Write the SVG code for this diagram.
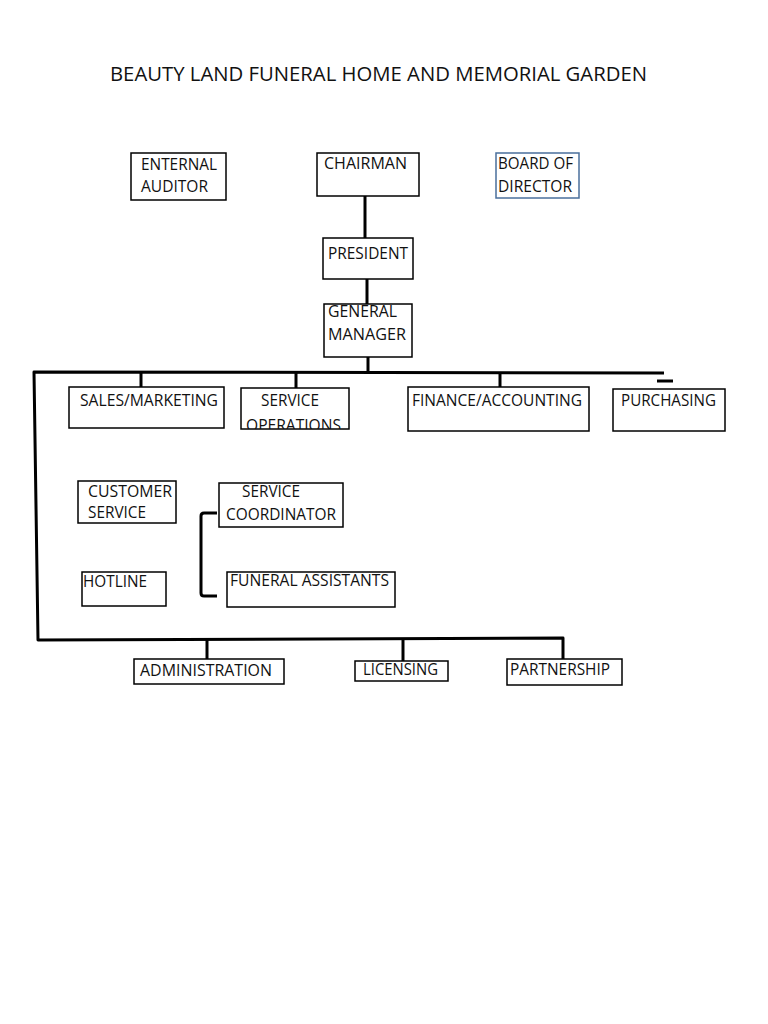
<svg xmlns="http://www.w3.org/2000/svg" width="768" height="1024" viewBox="0 0 768 1024">
<defs>
<style>
.box{fill:#fff;stroke:#000;stroke-width:1.5}
.blue{fill:#fff;stroke:#4a6f9c;stroke-width:1.5}
.t{font-family:"Open Sans","Liberation Sans",sans-serif;font-size:15.5px;fill:#111}
.title{font-family:"Open Sans","Liberation Sans",sans-serif;font-size:20px;fill:#111}
.c{fill:none;stroke:#000;stroke-width:3;stroke-linejoin:round}
</style>
<clipPath id="opsclip"><rect x="241" y="388" width="108" height="41"/></clipPath>
<clipPath id="gmclip"><rect x="324" y="305" width="88" height="52"/></clipPath>
</defs>
<rect width="768" height="1024" fill="#fff"/>
<text class="title" x="110" y="81" textLength="537" lengthAdjust="spacingAndGlyphs">BEAUTY LAND FUNERAL HOME AND MEMORIAL GARDEN</text>

<g id="connectors">
<line class="c" x1="365" y1="196" x2="365" y2="238"/>
<line class="c" x1="367" y1="279" x2="367" y2="305"/>
<line class="c" x1="368" y1="357" x2="368" y2="373"/>
<polyline class="c" points="664,373 34,372 38,640 563,638 563,659"/>
<line class="c" x1="141" y1="373" x2="141" y2="387"/>
<line class="c" x1="296" y1="373" x2="296" y2="388"/>
<line class="c" x1="500" y1="373" x2="500" y2="387"/>
<line class="c" x1="657" y1="381" x2="673" y2="381"/>
<line class="c" x1="207" y1="640" x2="207" y2="659"/>
<line class="c" x1="403" y1="639" x2="403" y2="661"/>
<path class="c" d="M217,513 L204,513 Q201,513 201,516 L201,593 Q201,596 204,596 L217,596"/>
</g>

<g id="enternal-auditor">
<rect class="box" x="131" y="153" width="95" height="47"/>
<text class="t" x="141" y="170" textLength="76" lengthAdjust="spacingAndGlyphs">ENTERNAL</text>
<text class="t" x="141" y="192" textLength="67" lengthAdjust="spacingAndGlyphs">AUDITOR</text>
</g>
<g id="chairman">
<rect class="box" x="317" y="153" width="102" height="43"/>
<text class="t" x="324" y="169" textLength="83" lengthAdjust="spacingAndGlyphs">CHAIRMAN</text>
</g>
<g id="board-of-director">
<rect class="blue" x="496" y="153" width="83" height="45"/>
<text class="t" x="498" y="169" textLength="75" lengthAdjust="spacingAndGlyphs">BOARD OF</text>
<text class="t" x="498" y="192" textLength="74" lengthAdjust="spacingAndGlyphs">DIRECTOR</text>
</g>
<g id="president">
<rect class="box" x="323" y="238" width="90" height="41"/>
<text class="t" x="328" y="259" textLength="80" lengthAdjust="spacingAndGlyphs">PRESIDENT</text>
</g>
<g id="general-manager">
<rect class="box" x="324" y="304" width="88" height="53"/>
<g clip-path="url(#gmclip)">
<text class="t" x="328" y="317" textLength="69" lengthAdjust="spacingAndGlyphs">GENERAL</text>
</g>
<text class="t" x="328" y="340" textLength="78" lengthAdjust="spacingAndGlyphs">MANAGER</text>
</g>
<g id="sales-marketing">
<rect class="box" x="69" y="387" width="155" height="41"/>
<text class="t" x="80" y="406" textLength="138" lengthAdjust="spacingAndGlyphs">SALES/MARKETING</text>
</g>
<g id="service-operations">
<rect class="box" x="241" y="388" width="108" height="41"/>
<text class="t" x="261" y="406" textLength="58" lengthAdjust="spacingAndGlyphs">SERVICE</text>
<g clip-path="url(#opsclip)">
<text class="t" x="246" y="431" textLength="95" lengthAdjust="spacingAndGlyphs">OPERATIONS</text>
</g>
</g>
<g id="finance-accounting">
<rect class="box" x="408" y="387" width="181" height="44"/>
<text class="t" x="412" y="406" textLength="170" lengthAdjust="spacingAndGlyphs">FINANCE/ACCOUNTING</text>
</g>
<g id="purchasing">
<rect class="box" x="613" y="389" width="112" height="42"/>
<text class="t" x="621" y="406" textLength="95" lengthAdjust="spacingAndGlyphs">PURCHASING</text>
</g>
<g id="customer-service">
<rect class="box" x="78" y="481" width="98" height="42"/>
<text class="t" x="88" y="497" textLength="84" lengthAdjust="spacingAndGlyphs">CUSTOMER</text>
<text class="t" x="88" y="518" textLength="58" lengthAdjust="spacingAndGlyphs">SERVICE</text>
</g>
<g id="service-coordinator">
<rect class="box" x="219" y="483" width="124" height="44"/>
<text class="t" x="242" y="497" textLength="58" lengthAdjust="spacingAndGlyphs">SERVICE</text>
<text class="t" x="226" y="520" textLength="110" lengthAdjust="spacingAndGlyphs">COORDINATOR</text>
</g>
<g id="hotline">
<rect class="box" x="82" y="572" width="84" height="34"/>
<text class="t" x="83" y="587" textLength="64" lengthAdjust="spacingAndGlyphs">HOTLINE</text>
</g>
<g id="funeral-assistants">
<rect class="box" x="227" y="572" width="168" height="35"/>
<text class="t" x="230" y="586" textLength="159" lengthAdjust="spacingAndGlyphs">FUNERAL ASSISTANTS</text>
</g>
<g id="administration">
<rect class="box" x="134" y="659" width="150" height="25"/>
<text class="t" x="140" y="676" textLength="132" lengthAdjust="spacingAndGlyphs">ADMINISTRATION</text>
</g>
<g id="licensing">
<rect class="box" x="355" y="661" width="93" height="20"/>
<text class="t" x="363" y="675" textLength="75" lengthAdjust="spacingAndGlyphs">LICENSING</text>
</g>
<g id="partnership">
<rect class="box" x="507" y="659" width="115" height="26"/>
<text class="t" x="510" y="675" textLength="100" lengthAdjust="spacingAndGlyphs">PARTNERSHIP</text>
</g>
</svg>
